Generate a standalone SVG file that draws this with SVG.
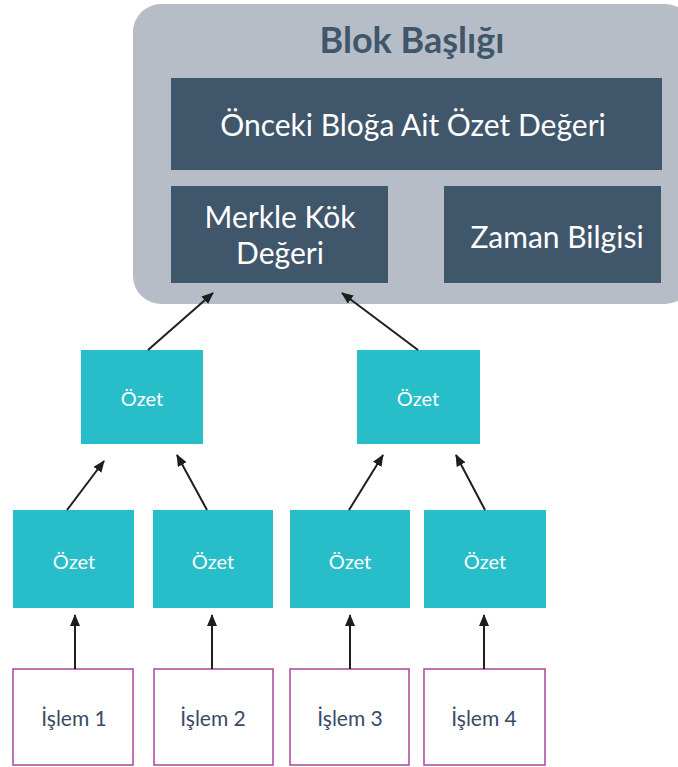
<svg xmlns="http://www.w3.org/2000/svg" width="678" height="767" viewBox="0 0 678 767">
  <style>
    .hdr { fill: #b6bdc7; }
    .dark { fill: #3f566b; }
    .teal { fill: #27bec9; }
    .tx { fill: #ffffff; stroke: #b04fa3; stroke-width: 1.6; }
    .lbl { font-family: Lato, "Open Sans", sans-serif; text-anchor: middle; dominant-baseline: central; }
    .w { fill: #ffffff; }
    .big { font-size: 30px; }
    .small { font-size: 20px; }
    .title { font-size: 36px; font-weight: bold; fill: #3f566b; }
    .tl { font-size: 21px; fill: #3a4a66; }
    .conn line { stroke: #1e1e1e; stroke-width: 2; marker-end: url(#ah); }
  </style>
  <defs>
    <marker id="ah" viewBox="0 0 12 10" refX="11" refY="5" markerWidth="12" markerHeight="10" markerUnits="userSpaceOnUse" orient="auto">
      <path d="M0,0 L12,5 L0,10 Z" fill="#1e1e1e"/>
    </marker>
  </defs>

  <!-- block header -->
  <g id="block-header">
    <rect class="hdr" x="133" y="4" width="560" height="300" rx="28"/>
    <text class="lbl title" x="412" y="39">Blok Başlığı</text>
  </g>
  <g id="prev-hash">
    <rect class="dark" x="171" y="78" width="491" height="92"/>
    <text class="lbl big w" x="413" y="124">Önceki Bloğa Ait Özet Değeri</text>
  </g>
  <g id="merkle-root">
    <rect class="dark" x="171" y="186" width="217" height="97"/>
    <text class="lbl big w" x="280" y="216">Merkle Kök</text>
    <text class="lbl big w" x="280" y="252">Değeri</text>
  </g>
  <g id="timestamp">
    <rect class="dark" x="444" y="186" width="217" height="97"/>
    <text class="lbl big w" x="557" y="236">Zaman Bilgisi</text>
  </g>

  <!-- hash tree -->
  <g id="hash-left">
    <rect class="teal" x="81" y="350" width="122" height="94"/>
    <text class="lbl small w" x="142" y="398">Özet</text>
  </g>
  <g id="hash-right">
    <rect class="teal" x="357" y="350" width="123" height="94"/>
    <text class="lbl small w" x="418" y="398">Özet</text>
  </g>
  <g id="hash-1">
    <rect class="teal" x="13" y="510" width="121" height="98"/>
    <text class="lbl small w" x="74" y="561">Özet</text>
  </g>
  <g id="hash-2">
    <rect class="teal" x="153" y="510" width="120" height="98"/>
    <text class="lbl small w" x="213" y="561">Özet</text>
  </g>
  <g id="hash-3">
    <rect class="teal" x="290" y="510" width="120" height="98"/>
    <text class="lbl small w" x="350" y="561">Özet</text>
  </g>
  <g id="hash-4">
    <rect class="teal" x="424" y="510" width="122" height="98"/>
    <text class="lbl small w" x="485" y="561">Özet</text>
  </g>

  <!-- transactions -->
  <g id="tx-1">
    <rect class="tx" x="13" y="669" width="120" height="96"/>
    <text class="lbl tl" x="74" y="717">İşlem 1</text>
  </g>
  <g id="tx-2">
    <rect class="tx" x="154" y="669" width="119" height="96"/>
    <text class="lbl tl" x="213" y="717">İşlem 2</text>
  </g>
  <g id="tx-3">
    <rect class="tx" x="290" y="669" width="119" height="96"/>
    <text class="lbl tl" x="350" y="717">İşlem 3</text>
  </g>
  <g id="tx-4">
    <rect class="tx" x="424" y="669" width="121" height="96"/>
    <text class="lbl tl" x="484" y="717">İşlem 4</text>
  </g>

  <!-- connectors -->
  <g id="connectors" class="conn">
    <line x1="148" y1="350" x2="213" y2="293"/>
    <line x1="418" y1="350" x2="342" y2="293"/>
    <line x1="67" y1="510" x2="104" y2="461"/>
    <line x1="207" y1="510" x2="177" y2="455"/>
    <line x1="349" y1="510" x2="383" y2="455"/>
    <line x1="485" y1="510" x2="456" y2="455"/>
    <line x1="75" y1="669" x2="75" y2="615"/>
    <line x1="212" y1="669" x2="212" y2="615"/>
    <line x1="350" y1="669" x2="350" y2="615"/>
    <line x1="484" y1="669" x2="484" y2="615"/>
  </g>
</svg>
